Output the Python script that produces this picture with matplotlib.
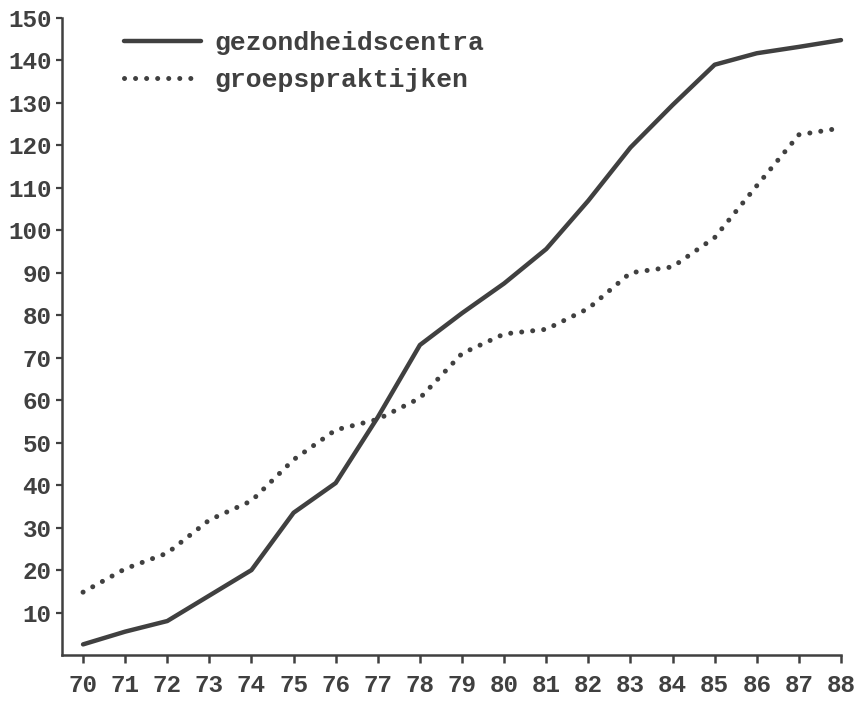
import matplotlib
matplotlib.use("Agg")
import matplotlib.pyplot as plt

years = list(range(70, 89))
year_labels = [str(y) for y in years]
gezondheidscentra = [2.5, 5.5, 8, 14, 20, 33.5, 40.5, 56, 73, 80.5, 87.5, 95.6,
                     107, 119.5, 129.5, 139, 141.7, 143.2, 144.8]
groepspraktijken = [14.8, 20.3, 24, 31.8, 36.3, 46, 53, 55.5, 60.5, 71, 75.6, 76.7,
                    81.6, 90, 91.4, 98.3, 110.5, 122.5, 124.1]
y_ticks = list(range(10, 151, 10))

INK = "#404040"
FONT = "Liberation Mono"

fig = plt.figure(figsize=(8.59, 7.01), dpi=100)
ax = fig.add_axes([62/859, 46/701, 779/859, 637/701])

ax.plot(years, gezondheidscentra, color=INK, lw=3.2, solid_capstyle="round",
        solid_joinstyle="round", label="gezondheidscentra", clip_on=False)
ax.plot(years, groepspraktijken, color=INK, lw=3.6, linestyle=(0, (0.01, 2.2)),
        dash_capstyle="round", label="groepspraktijken", clip_on=False)

ax.set_xlim(69.5, 88)
ax.set_ylim(0, 150)
ax.set_xticks(years)
ax.set_xticklabels(year_labels)
ax.set_yticks(y_ticks)
ax.set_yticklabels([str(v) for v in y_ticks])

for s in ["top", "right"]:
    ax.spines[s].set_visible(False)
for s in ["left", "bottom"]:
    ax.spines[s].set_color(INK)
    ax.spines[s].set_linewidth(1.8)

ax.tick_params(axis="x", direction="out", length=6, width=1.8, color=INK, pad=8)
ax.tick_params(axis="y", direction="out", length=4.5, width=1.6, color=INK, pad=3)
for lab in ax.get_xticklabels() + ax.get_yticklabels():
    lab.set_fontfamily(FONT)
    lab.set_fontweight("bold")
    lab.set_fontsize(17.5)
    lab.set_color(INK)

leg = ax.legend(loc="upper left", bbox_to_anchor=(0.08, 0.98), frameon=False,
                prop={"family": FONT, "weight": "bold", "size": 19},
                handlelength=2.9, handletextpad=0.5, labelspacing=0.5,
                borderpad=0, borderaxespad=0)
for t in leg.get_texts():
    t.set_color(INK)

fig.savefig("out.png", dpi=100, facecolor="white")
